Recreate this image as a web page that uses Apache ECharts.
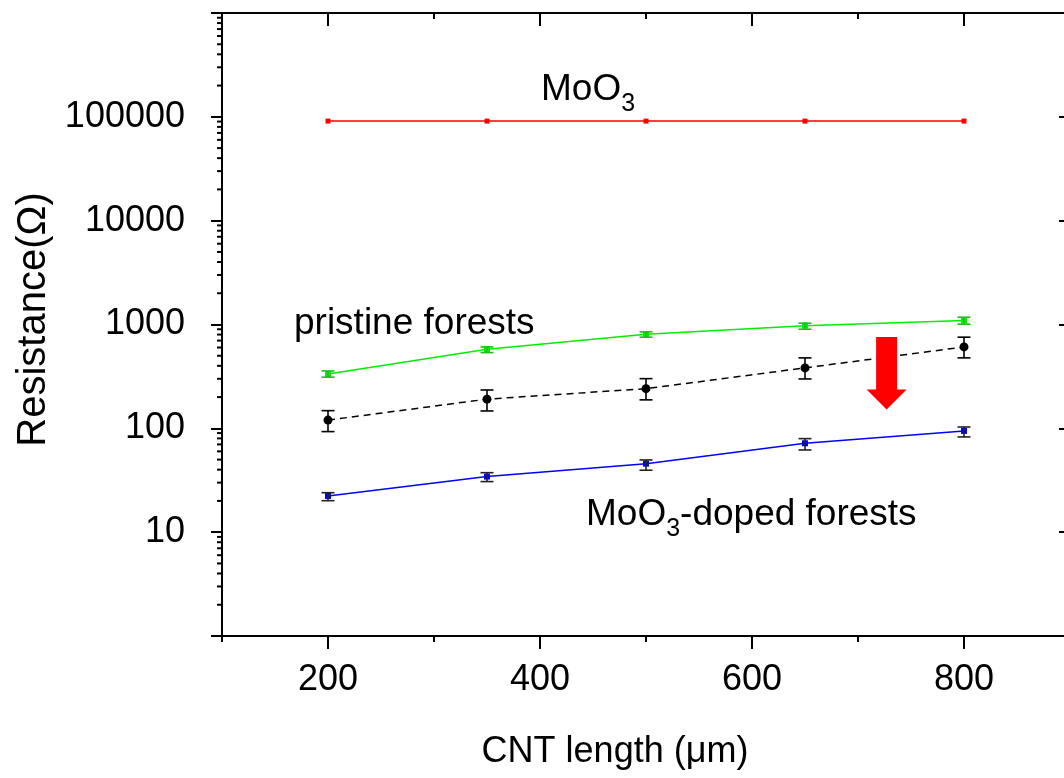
<!DOCTYPE html>
<html>
<head>
<meta charset="utf-8">
<script src="https://cdn.jsdelivr.net/npm/echarts@6/dist/echarts.min.js"></script>
<style>
  html, body { margin: 0; padding: 0; background: #fff; overflow: hidden; }
  #main { width: 1070px; height: 778px; }
</style>
</head>
<body>
<div id="main"></div>
<script>
// CNT length (um) of each sample
const xVals = [200, 350, 500, 650, 800]

// MoO3 film alone
const moo3 = [91000, 91000, 91000, 91000, 91000]

// pristine forests (green)
const pristine = [334, 578, 807, 975, 1091]
const pristineLow = [311, 536, 755, 901, 1007]
const pristineHigh = [357, 608, 849, 1030, 1175]

// black dashed series with error bars
const middle = [120, 191, 241, 382, 608]
const middleLow = [93, 147, 188, 299, 477]
const middleHigh = [148, 234, 301, 477, 755]

// MoO3-doped forests (blue)
const doped = [22.3, 34.3, 45.7, 71.8, 94.4]
const dopedLow = [20.1, 30.7, 39.5, 61.9, 82.6]
const dopedHigh = [24.0, 37.4, 49.6, 79.6, 103]

// axis range and tick labels
const xRange = [100, 900]
const xLabels = [200, 400, 600, 800]
const yHidden = [1, 1000000]

// red arrow: x position, top and tip values
const arrowX = [727]
const arrowTop = [760]
const arrowTip = [152]

// minor log ticks: 2..9 in every decade
let yMinor = []
for (let n = 0; n < 6; n++) {
    for (let k = 2; k <= 9; k++) yMinor.push(k * Math.pow(10, n))
}

const FONT = 'Liberation Sans, Arial, sans-serif'

function pairs(ys) {
    return xVals.map((x, i) => [x, ys[i]])
}

function bars(lo, hi) {
    return xVals.map((x, i) => [x, lo[i], hi[i]])
}

function errorBars(color) {
    return function (params, api) {
        let x = api.value(0)
        let lo = api.coord([x, api.value(1)])
        let hi = api.coord([x, api.value(2)])
        let w = 6.5
        let style = { stroke: color, lineWidth: 1.6 }
        return {
            type: 'group',
            children: [
                { type: 'line', shape: { x1: lo[0], y1: lo[1], x2: hi[0], y2: hi[1] }, style: style },
                { type: 'line', shape: { x1: hi[0] - w, y1: hi[1], x2: hi[0] + w, y2: hi[1] }, style: style },
                { type: 'line', shape: { x1: lo[0] - w, y1: lo[1], x2: lo[0] + w, y2: lo[1] }, style: style }
            ]
        }
    }
}

// log minor ticks on the left (outward) and right (inward) frame
function minorTicks(params, api) {
    let left = api.coord([xRange[0], api.value(1)])
    let right = api.coord([xRange[1], api.value(1)])
    let style = { stroke: '#000', lineWidth: 2 }
    return {
        type: 'group',
        children: [
            { type: 'line', shape: { x1: left[0] - 5, y1: left[1], x2: left[0], y2: left[1] }, style: style },
            { type: 'line', shape: { x1: right[0] - 5, y1: right[1], x2: right[0], y2: right[1] }, style: style }
        ]
    }
}

// big red arrow pointing down, from top value to tip value
function renderArrow(params, api) {
    let top = api.coord([api.value(0), api.value(1)])
    let tip = api.coord([api.value(0), api.value(2)])
    let cx = top[0]
    let shaft = 10.5, head = 20, headH = 20
    return {
        type: 'polygon',
        shape: {
            points: [
                [cx - shaft, top[1]], [cx + shaft, top[1]],
                [cx + shaft, tip[1] - headH], [cx + head, tip[1] - headH],
                [cx, tip[1]],
                [cx - head, tip[1] - headH], [cx - shaft, tip[1] - headH]
            ]
        },
        style: { fill: '#ff0000' }
    }
}

function lineSeries(name, ys, color, symbol, size, dashed) {
    return {
        name: name,
        type: 'line',
        data: pairs(ys),
        symbol: symbol,
        symbolSize: size,
        itemStyle: { color: color },
        lineStyle: { color: dashed ? '#000' : color, width: 1.5, type: dashed ? [7, 5] : 'solid' },
        z: 3
    }
}

function barSeries(lo, hi, color) {
    return {
        type: 'custom',
        data: bars(lo, hi),
        encode: { x: 0, y: [1, 2] },
        renderItem: errorBars(color),
        z: 4
    }
}

const tickStyle = { color: '#000', width: 2 }

function lineOn() {
    return { show: true, onZero: false, lineStyle: { color: '#000', width: 2 } }
}

// x axes: ticks every 200 from 100 (short), minor tick halfway (long, labelled)
function xAxisAt(position, inside, withLabels) {
    return {
        type: 'value', position: position, min: xRange[0], max: xRange[1], interval: 200,
        axisLine: lineOn(),
        axisTick: { inside: inside, length: 6, lineStyle: tickStyle },
        minorTick: { show: true, splitNumber: 2, length: 13, lineStyle: tickStyle },
        axisLabel: withLabels
            ? { customValues: xLabels, fontSize: 36, color: '#000', margin: 26, fontFamily: FONT }
            : { show: false },
        splitLine: { show: false }
    }
}

var myChart = echarts.init(document.getElementById('main'))

let xBottom = xAxisAt('bottom', false, true)
xBottom.name = 'CNT length (\u03bcm)'
xBottom.nameLocation = 'middle'
xBottom.nameGap = 98
xBottom.nameTextStyle = { fontSize: 36, color: '#000', fontFamily: FONT, padding: [0, 62, 0, 0] }

var option = {
    animation: false,
    backgroundColor: '#fff',
    textStyle: { fontFamily: FONT },
    grid: { left: 222, top: 13, right: 0, bottom: 142, outerBoundsMode: 'none', containLabel: false },
    xAxis: [xBottom, xAxisAt('top', true, false)],
    yAxis: [
        {
            type: 'log', logBase: 10, position: 'left', min: 1, max: 1000000,
            axisLine: lineOn(),
            axisTick: { length: 11, lineStyle: tickStyle },
            axisLabel: {
                fontSize: 36, color: '#000', margin: 37, fontFamily: FONT,
                formatter: v => yHidden.includes(v) ? '' : String(v)
            },
            minorTick: { show: false },
            splitLine: { show: false },
            name: 'Resistance(\u03a9)',
            nameLocation: 'middle',
            nameGap: 165,
            nameTextStyle: { fontSize: 40, color: '#000', fontFamily: FONT, padding: [0, 0, 0, 10] }
        },
        {
            type: 'value', position: 'right', min: 0, max: 6, interval: 1,
            axisLine: lineOn(),
            axisTick: { inside: true, length: 11, lineStyle: tickStyle },
            axisLabel: { show: false },
            splitLine: { show: false }
        }
    ],
    series: [
        lineSeries('MoO3', moo3, '#ff0000', 'rect', 5, false),
        lineSeries('pristine forests', pristine, '#00ee00', 'rect', 6, false),
        lineSeries('middle', middle, '#000000', 'circle', 9, true),
        lineSeries('MoO3-doped forests', doped, '#0000ff', 'rect', 6, false),
        barSeries(pristineLow, pristineHigh, '#22bb22'),
        barSeries(middleLow, middleHigh, '#000000'),
        barSeries(dopedLow, dopedHigh, '#222222'),
        {
            type: 'custom',
            data: yMinor.map(v => [xRange[1], v]),
            encode: { x: 0, y: 1 },
            renderItem: minorTicks,
            clip: false,
            silent: true,
            z: 2
        },
        {
            type: 'custom',
            data: arrowX.map((x, i) => [x, arrowTop[i], arrowTip[i]]),
            encode: { x: 0, y: [1, 2] },
            renderItem: renderArrow,
            z: 5
        }
    ],
    graphic: [
        {
            type: 'text', x: 541, y: 63, z: 10,
            style: {
                text: '{m|MoO}{s|3}',
                textVerticalAlign: 'top',
                rich: {
                    m: { fontSize: 37, lineHeight: 54, fontFamily: FONT, fill: '#000' },
                    s: { fontSize: 25, lineHeight: 24, verticalAlign: 'bottom', fontFamily: FONT, fill: '#000' }
                }
            }
        },
        {
            type: 'text', x: 294, y: 324, z: 10,
            style: { text: 'pristine forests', font: '37px ' + FONT, fill: '#000', textVerticalAlign: 'middle' }
        },
        {
            type: 'text', x: 586, y: 488, z: 10,
            style: {
                text: '{m|MoO}{s|3}{m|-doped forests}',
                textVerticalAlign: 'top',
                rich: {
                    m: { fontSize: 37, lineHeight: 54, fontFamily: FONT, fill: '#000' },
                    s: { fontSize: 25, lineHeight: 24, verticalAlign: 'bottom', fontFamily: FONT, fill: '#000' }
                }
            }
        }
    ]
}

myChart.setOption(option)
</script>
</body>
</html>
